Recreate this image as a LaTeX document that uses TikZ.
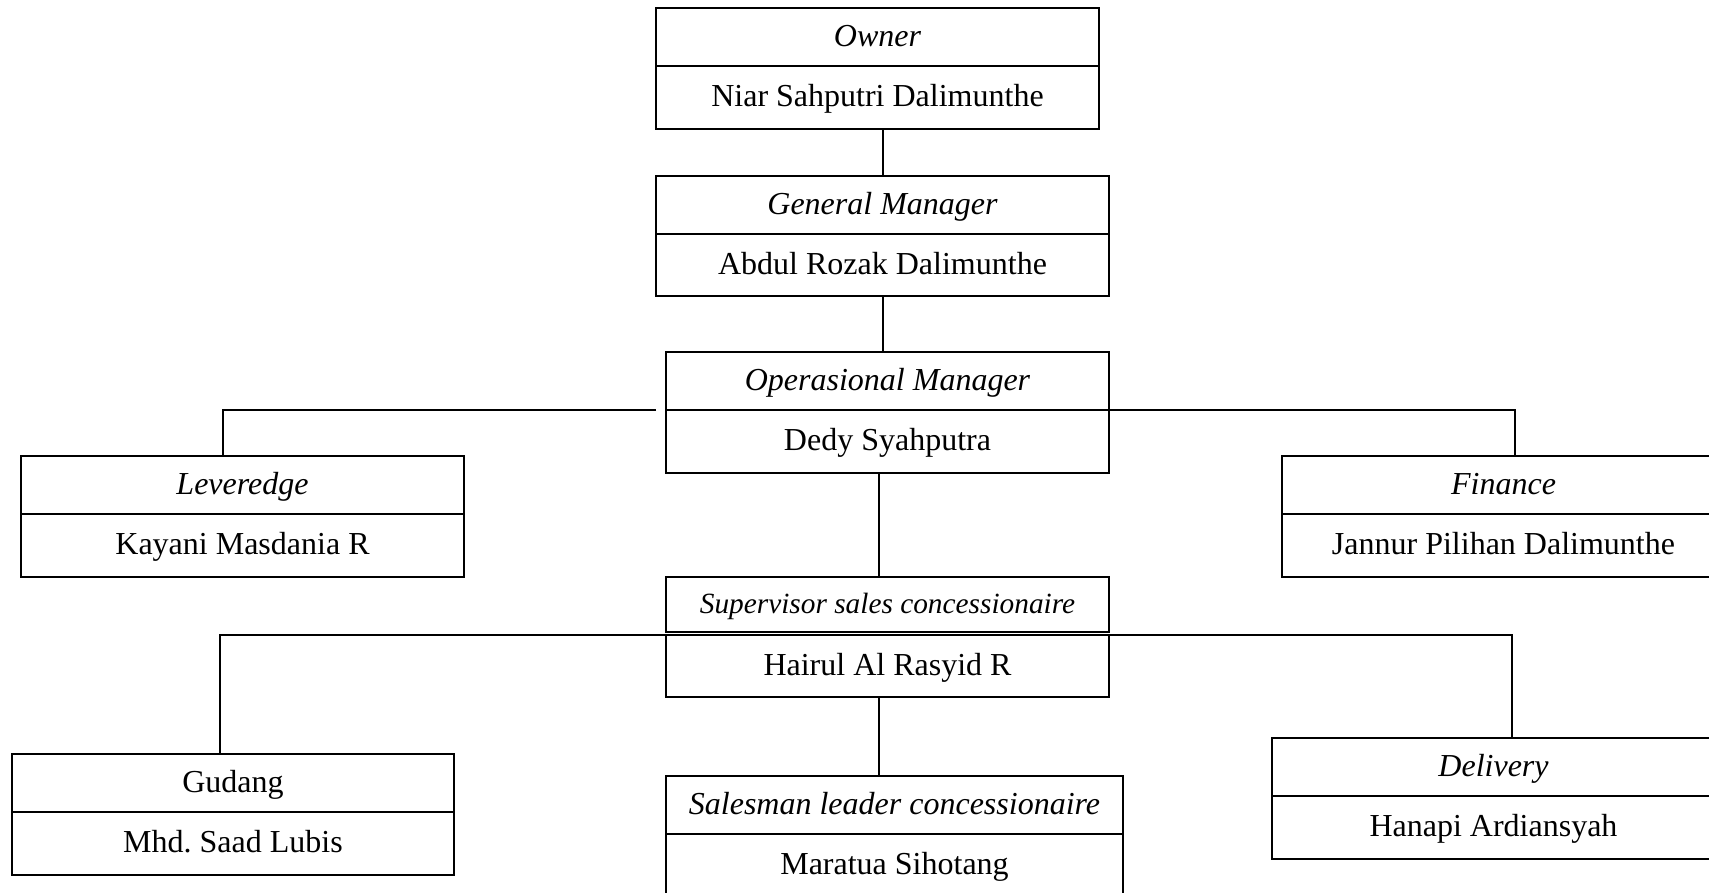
\documentclass[tikz,border=0pt]{standalone}
\usepackage{fontspec}
\setmainfont{Liberation Serif}
\usetikzlibrary{positioning}
\newlength\pxunit
\setlength\pxunit{0.375pt}

\begin{document}
\begin{tikzpicture}[x=\pxunit, y=-\pxunit, line width=0.75pt] % struktur organisasi
\tikzstyle{jabatan} = [draw, outer sep=0pt, inner sep=0pt, minimum height=58\pxunit, text height=0.8em, text depth=0.1em, font=\fontsize{12}{14}\selectfont\itshape] % kotak jabatan (bagian atas)
\tikzstyle{nama} = [draw, outer sep=0pt, inner sep=0pt, minimum height=63\pxunit, text height=0.8em, text depth=0.1em, font=\fontsize{12}{14}\selectfont] % kotak nama (bagian bawah)
\useasboundingbox (0,0) rectangle (1709,893);
\clip (0,0) rectangle (1709,893);
% pimpinan
\node[jabatan, minimum width=443\pxunit, anchor=north west] (ownT) at (656,8) {Owner};
\node[nama, minimum width=443\pxunit, below=0pt of ownT] (ownN) {Niar Sahputri Dalimunthe};
\node[jabatan, minimum width=453\pxunit, anchor=north west] (gmT) at (656,176) {General Manager};
\node[nama, minimum width=453\pxunit, minimum height=62\pxunit, below=0pt of gmT] (gmN) {Abdul Rozak Dalimunthe};
\node[jabatan, minimum width=443\pxunit, anchor=north west] (opsT) at (666,352) {Operasional Manager};
\node[nama, minimum width=443\pxunit, below=0pt of opsT] (opsN) {Dedy Syahputra};
% staf di bawah operasional
\node[jabatan, minimum width=443\pxunit, anchor=north west] (levT) at (21,456) {Leveredge};
\node[nama, minimum width=443\pxunit, below=0pt of levT] (levN) {Kayani Masdania R};
\node[jabatan, minimum width=443\pxunit, anchor=north west] (finT) at (1282,456) {Finance};
\node[nama, minimum width=443\pxunit, below=0pt of finT] (finN) {Jannur Pilihan Dalimunthe};
\node[jabatan, minimum width=443\pxunit, minimum height=55\pxunit, font=\fontsize{11}{13}\selectfont\itshape, anchor=north west] (supT) at (666,577) {Supervisor sales concessionaire};
\node[nama, minimum width=443\pxunit, minimum height=62\pxunit, anchor=north west] (hrN) at (666,635) {Hairul Al Rasyid R};
% staf di bawah supervisor
\node[jabatan, minimum width=442\pxunit, font=\fontsize{12}{14}\selectfont, anchor=north west] (gudT) at (12,754) {Gudang};
\node[nama, minimum width=442\pxunit, below=0pt of gudT] (gudN) {Mhd.\ Saad Lubis};
\node[jabatan, minimum width=457\pxunit, anchor=north west] (slsT) at (666,776) {Salesman leader concessionaire};
\node[nama, minimum width=457\pxunit, below=0pt of slsT] (slsN) {Maratua Sihotang};
\node[jabatan, minimum width=443\pxunit, anchor=north west] (delT) at (1272,738) {Delivery};
\node[nama, minimum width=443\pxunit, below=0pt of delT] (delN) {Hanapi Ardiansyah};
% garis penghubung
\draw (gmT.north) -- (gmT.north |- ownN.south);
\draw (gmN.south) -- (gmN.south |- opsT.north);
\draw ([xshift=-10\pxunit]opsT.south west) -| ([xshift=-20\pxunit]levT.north);
\draw (opsT.south east) -| ([xshift=11\pxunit]finT.north);
\draw ([xshift=-9\pxunit]opsN.south) -- ([xshift=-9\pxunit]supT.north);
\draw ([xshift=-13\pxunit]gudT.north) |- (hrN.north west);
\draw (hrN.north east) -| ([xshift=18\pxunit]delT.north);
\draw ([xshift=-9\pxunit]hrN.south) -- ([xshift=-9\pxunit]hrN.south |- slsT.north);
\end{tikzpicture}
\end{document}
